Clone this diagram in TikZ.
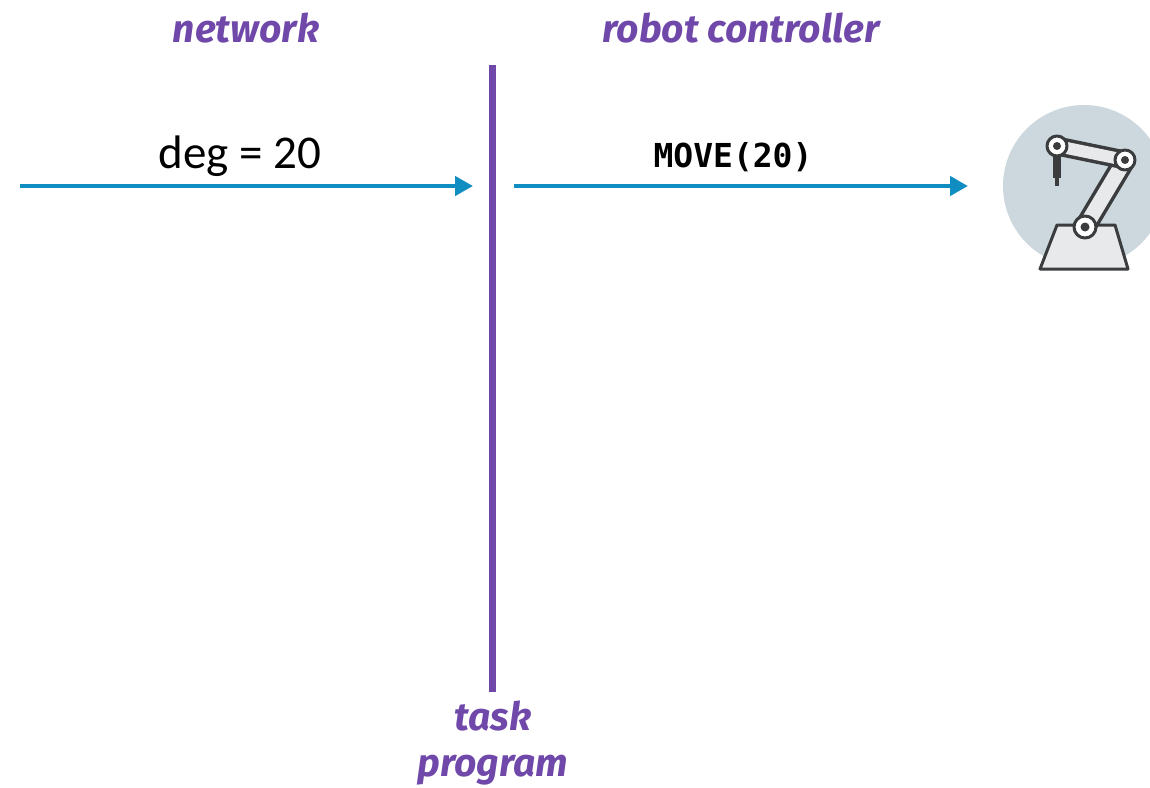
\documentclass[tikz,border=0pt]{standalone}
\usepackage{fontspec}
\setmainfont{Carlito}
\newfontfamily\handfont{Fira Sans}
\newfontfamily\codefont{DejaVu Sans Mono}
\usetikzlibrary{arrows.meta}
\definecolor{lanepurple}{RGB}{112,72,170}
\definecolor{msgblue}{RGB}{16,142,194}
\definecolor{iconbg}{RGB}{204,216,222}
\definecolor{icondark}{RGB}{58,60,62}
\definecolor{iconlight}{RGB}{232,233,234}
\tikzset{
  lanelabel/.style={text=lanepurple, font=\handfont\bfseries\itshape\fontsize{39}{45}\selectfont, inner sep=0pt},
  msg/.style={draw=msgblue, line width=4.5pt, -{Triangle[length=18pt,width=19pt]}},
  msgtext/.style={inner sep=0pt, anchor=base},
  robotpart/.style={draw=icondark, line width=3pt, fill=iconlight, line join=round}
}
\begin{document}
\begin{tikzpicture}[x=1pt,y=-1pt]
\useasboundingbox (0,0) rectangle (1150,787);
% lane labels
\node[lanelabel] (net) at (246,28) {network};
\node[lanelabel] (rc) at (741,28) {robot controller};
\node[lanelabel, align=center] (tp) at (493,743) {task\\[1pt]program};
% lane line
\coordinate (ltop) at (492,65);
\coordinate (lbot) at (492,692);
\draw[lanepurple, line width=7pt] (ltop) -- (lbot);
% messages
\coordinate (a1s) at (20,186);
\coordinate (a1e) at (473,186);
\coordinate (a2s) at (514,186);
\coordinate (a2e) at (968,186);
\draw[msg] (a1s) -- (a1e);
\draw[msg] (a2s) -- (a2e);
\node[msgtext, font=\fontsize{47}{50}\selectfont] (deg) at (240,168) {deg = 20};
\node[msgtext, font=\codefont\bfseries\fontsize{33}{36}\selectfont] (mv) at (733,167) {MOVE(20)};
% robot icon
\begin{scope}
\clip (990,90) rectangle (1150,290);
\fill[iconbg] (1084,186) circle (81);
% base
\draw[robotpart] (1057,225) -- (1115,225) -- (1128,269) -- (1040,269) -- cycle;
% lower arm
\draw[icondark, line width=22pt, line cap=round] (1085,227) -- (1125,160);
\draw[iconlight, line width=15pt, line cap=round] (1085,227) -- (1125,160);
% upper arm
\draw[icondark, line width=19pt, line cap=round] (1057,146) -- (1125,160);
\draw[iconlight, line width=12pt, line cap=round] (1057,146) -- (1125,160);
% tool
\fill[icondark] (1053,150) rectangle (1061,178);
\fill[icondark] (1055,178) rectangle (1059,186);
% joints
\draw[robotpart, fill=white] (1085,227) circle (11);
\fill[icondark] (1085,227) circle (4.5);
\draw[robotpart, fill=white] (1125,160) circle (10);
\fill[icondark] (1125,160) circle (4);
\draw[robotpart, fill=white] (1057,146) circle (10);
\fill[icondark] (1057,146) circle (4);
\end{scope}
\end{tikzpicture}
\end{document}
